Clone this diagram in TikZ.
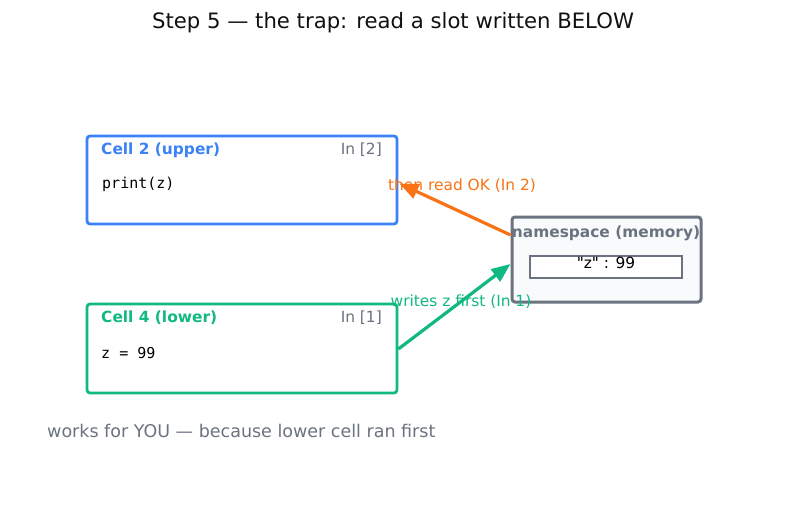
\documentclass[tikz,border=0pt]{standalone}
\usepackage{fontspec}
\setmainfont{DejaVu Sans}[Ligatures=TeXOff]
\setmonofont{DejaVu Sans Mono}
\usetikzlibrary{arrows.meta}
\definecolor{cblue}{HTML}{3B82F6}
\definecolor{cgreen}{HTML}{10B981}
\definecolor{corange}{HTML}{F97316}
\definecolor{cgray}{HTML}{6B7280}
\definecolor{ctitle}{HTML}{111111}
\definecolor{nsfill}{HTML}{F8FAFC}
\tikzset{
  cellbox/.style={draw, line width=2.8pt, rounded corners=3pt, fill=white, minimum width=310pt, inner sep=0pt},
  nsbox/.style={draw=cgray, line width=3pt, rounded corners=3pt, fill=nsfill, minimum width=189pt, minimum height=85pt, inner sep=0pt},
  slotbox/.style={draw=cgray, line width=1.6pt, fill=white, minimum width=152pt, minimum height=22pt, inner sep=0pt},
  lbl/.style={inner sep=0pt, font=\fontsize{15.4}{18}\selectfont},
  boldlbl/.style={inner sep=0pt, font=\fontsize{15.4}{18}\selectfont\bfseries},
  codelbl/.style={inner sep=0pt, font=\fontsize{15}{18}\selectfont\ttfamily},
  arr/.style={line width=3.2pt, -{Triangle[length=19pt,width=15pt]}},
}
\begin{document}
\begin{tikzpicture}[x=1pt,y=-1pt]
\useasboundingbox[fill=white] (0,0) rectangle (787,508);
\node[inner sep=0pt, text=ctitle, font=\fontsize{21.2}{24}\selectfont] (title) at (393,23) {Step 5 — the trap: read a slot written BELOW};

\node[cellbox, draw=cblue, minimum height=88pt] (c2) at (242,180) {};
\node[boldlbl, text=cblue, anchor=west] (c2t) at (101,150) {Cell 2 (upper)};
\node[lbl, text=cgray, anchor=east] (c2n) at (382,150) {In [2]};
\node[codelbl, anchor=west] (c2c) at (102,184) {print(z)};

\node[cellbox, draw=cgreen, minimum height=89pt] (c4) at (242,348.5) {};
\node[boldlbl, text=cgreen, anchor=west] (c4t) at (101,318) {Cell 4 (lower)};
\node[lbl, text=cgray, anchor=east] (c4n) at (382,318) {In [1]};
\node[codelbl, anchor=west] (c4c) at (101,353) {z = 99};

\node[nsbox] (ns) at (606.5,259.5) {};
\node[boldlbl, text=cgray] (nst) at (606,233) {namespace (memory)};
\node[slotbox] (slot) at (606,267) {};
\node[lbl] (slott) at (606,263) {"z" : 99};

\draw[arr, corange] ([yshift=24.5pt]ns.west) -- ([yshift=-3.5pt,xshift=1pt]c2.east);
\draw[arr, cgreen] ([yshift=-0.5pt]c4.east) -- ([yshift=-4.5pt]ns.west);

\node[lbl, text=corange] (lo) at (462,186) {then read OK (In 2)};
\node[lbl, text=cgreen] (lg) at (461,302) {writes z first (In 1)};

\node[inner sep=0pt, text=cgray, anchor=west, font=\fontsize{17.5}{20}\selectfont] (foot) at (47,431) {works for YOU — because lower cell ran first};
\end{tikzpicture}
\end{document}
